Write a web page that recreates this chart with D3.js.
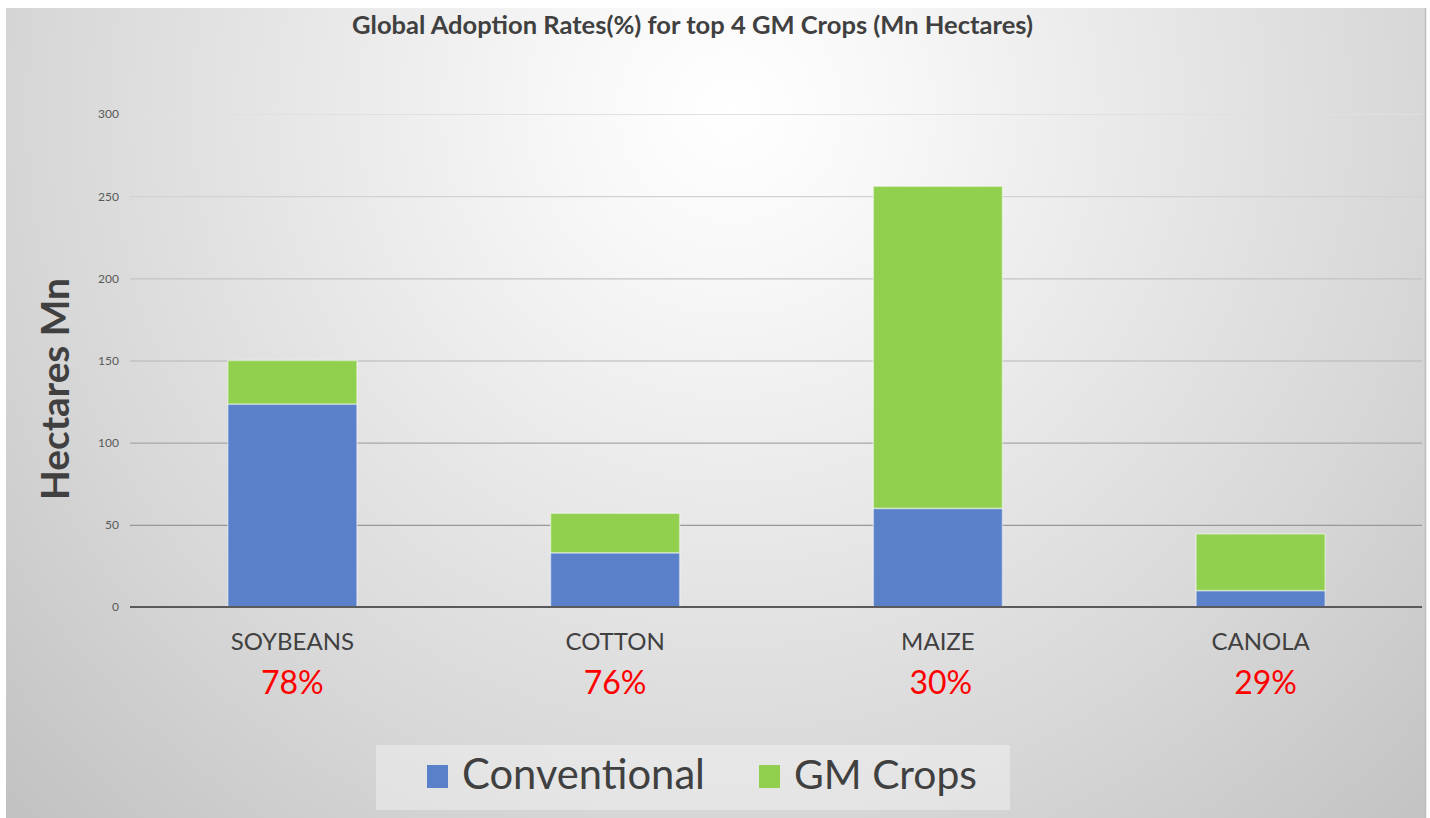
<!DOCTYPE html>
<html>
<head>
<meta charset="utf-8">
<script src="https://cdn.jsdelivr.net/npm/d3@7"></script>
<style>
  html, body { margin: 0; padding: 0; background: #ffffff; }
  svg { display: block; }
  text { font-family: Lato, "Open Sans", "DejaVu Sans", sans-serif; }
</style>
</head>
<body>
<svg id="chart" width="1430" height="818"></svg>
<script>
// ---------- data ----------
const categories = ["SOYBEANS", "COTTON", "MAIZE", "CANOLA"];
const conventional = [123.5, 33, 60, 10];
const gmCrops = [26.5, 24, 196, 34.5];
const adoptionLabels = ["78%", "76%", "30%", "29%"];
const seriesNames = ["Conventional", "GM Crops"];
const yTickValues = [0, 50, 100, 150, 200, 250, 300];
const titleText = "Global Adoption Rates(%) for top 4 GM Crops (Mn Hectares)";
const yAxisTitle = "Hectares Mn";

// ---------- setup ----------
const W = 1430, H = 818;
const svg = d3.select("#chart");
const colors = { "Conventional": "#5a80c9", "GM Crops": "#91d04f" };

const plot = { left: 130, right: 1422, top: 114, bottom: 607 };

// background panel with radial gradient
const defs = svg.append("defs");
const rg = defs.append("radialGradient")
  .attr("id", "bg").attr("gradientUnits", "userSpaceOnUse")
  .attr("cx", 730).attr("cy", 110).attr("r", 1000);
rg.append("stop").attr("offset", 0).attr("stop-color", "#ffffff");
rg.append("stop").attr("offset", 0.15).attr("stop-color", "#f8f8f8");
rg.append("stop").attr("offset", 0.7).attr("stop-color", "#d7d7d7");
rg.append("stop").attr("offset", 1).attr("stop-color", "#c2c2c2");

svg.append("rect").attr("x", 0).attr("y", 0).attr("width", W).attr("height", H).attr("fill", "#ffffff");
svg.append("rect").attr("x", 6).attr("y", 8).attr("width", 1420).attr("height", 812).attr("fill", "url(#bg)");
svg.append("line").attr("x1", 1425.5).attr("x2", 1425.5).attr("y1", 8).attr("y2", H)
  .attr("stroke", "#bdbdbd").attr("stroke-width", 1.5);

// scales
const x = d3.scaleBand().domain(categories).range([131, plot.right])
  .paddingInner(0.6).paddingOuter(0.3);
const y = d3.scaleLinear().domain([0, 300]).range([plot.bottom, plot.top]);
const gridColor = d3.scaleLinear().domain([0, 300]).range(["#8a8a8a", "#e0e0e0"]);

// y axis with gridlines
const yAxis = d3.axisLeft(y).tickValues(yTickValues)
  .tickSize(-(plot.right - plot.left)).tickPadding(11);
const gy = svg.append("g").attr("transform", `translate(${plot.left},0)`).call(yAxis);
gy.select(".domain").remove();
gy.selectAll(".tick line")
  .attr("stroke", d => gridColor(d)).attr("stroke-width", 1.2);
gy.selectAll(".tick text")
  .attr("fill", "#595959").attr("font-size", 12)
  .style("font-family", "Lato, 'Open Sans', sans-serif");

// stacked bars
const table = categories.map((c, i) => ({ cat: c, "Conventional": conventional[i], "GM Crops": gmCrops[i] }));
const stacked = d3.stack().keys(seriesNames)(table);
svg.append("g").selectAll("g").data(stacked).join("g")
  .attr("fill", d => colors[d.key])
  .selectAll("rect").data(d => d).join("rect")
  .attr("x", d => x(d.data.cat))
  .attr("width", x.bandwidth())
  .attr("y", d => y(d[1]))
  .attr("height", d => y(d[0]) - y(d[1]))
  .attr("stroke", "rgba(255,255,255,0.45)")
  .attr("stroke-width", 1.5);

// zero axis line
svg.append("line")
  .attr("x1", plot.left).attr("x2", plot.right)
  .attr("y1", y(0)).attr("y2", y(0))
  .attr("stroke", "#5a5a5a").attr("stroke-width", 1.8);

// category labels
svg.append("g").selectAll("text").data(categories).join("text")
  .attr("x", d => x(d) + x.bandwidth() / 2)
  .attr("y", 650)
  .attr("text-anchor", "middle")
  .attr("font-size", 24)
  .attr("fill", "#404040")
  .text(d => d);

// adoption percentage labels
svg.append("g").selectAll("text").data(adoptionLabels).join("text")
  .attr("x", (d, i) => x(categories[i]) + x.bandwidth() / 2 + [0, 0, 3, 5][i])
  .attr("y", 694)
  .attr("text-anchor", "middle")
  .attr("font-size", 32)
  .attr("fill", "#ff0000")
  .text(d => d);

// helper to fit text width
function fitWidth(sel, target) {
  const w = sel.node().getComputedTextLength();
  const fs = parseFloat(sel.attr("font-size"));
  sel.attr("font-size", fs * target / w);
}

// title
const t = svg.append("text")
  .attr("x", 692.5).attr("y", 34)
  .attr("text-anchor", "middle")
  .attr("font-size", 22).attr("font-weight", "bold")
  .attr("fill", "#404040")
  .text(titleText);
fitWidth(t, 681);

// y axis title
const yt = svg.append("text")
  .attr("transform", "translate(69,389) rotate(-90)")
  .attr("text-anchor", "middle")
  .attr("font-size", 38).attr("font-weight", "bold")
  .attr("fill", "#404040")
  .text(yAxisTitle);
fitWidth(yt, 222);

// legend
const lg = svg.append("g");
lg.append("rect").attr("x", 376).attr("y", 745).attr("width", 634).attr("height", 65)
  .attr("fill", "rgba(255,255,255,0.35)");
const legendX = [427, 759];
const legendTargets = [243, 183];
seriesNames.forEach((s, i) => {
  lg.append("rect").attr("x", legendX[i]).attr("y", 765).attr("width", 21).attr("height", 23)
    .attr("fill", colors[s]);
  const lt = lg.append("text")
    .attr("x", legendX[i] + 35).attr("y", 789)
    .attr("font-size", 38).attr("fill", "#404040")
    .text(s);
  fitWidth(lt, legendTargets[i]);
});
</script>
</body>
</html>
